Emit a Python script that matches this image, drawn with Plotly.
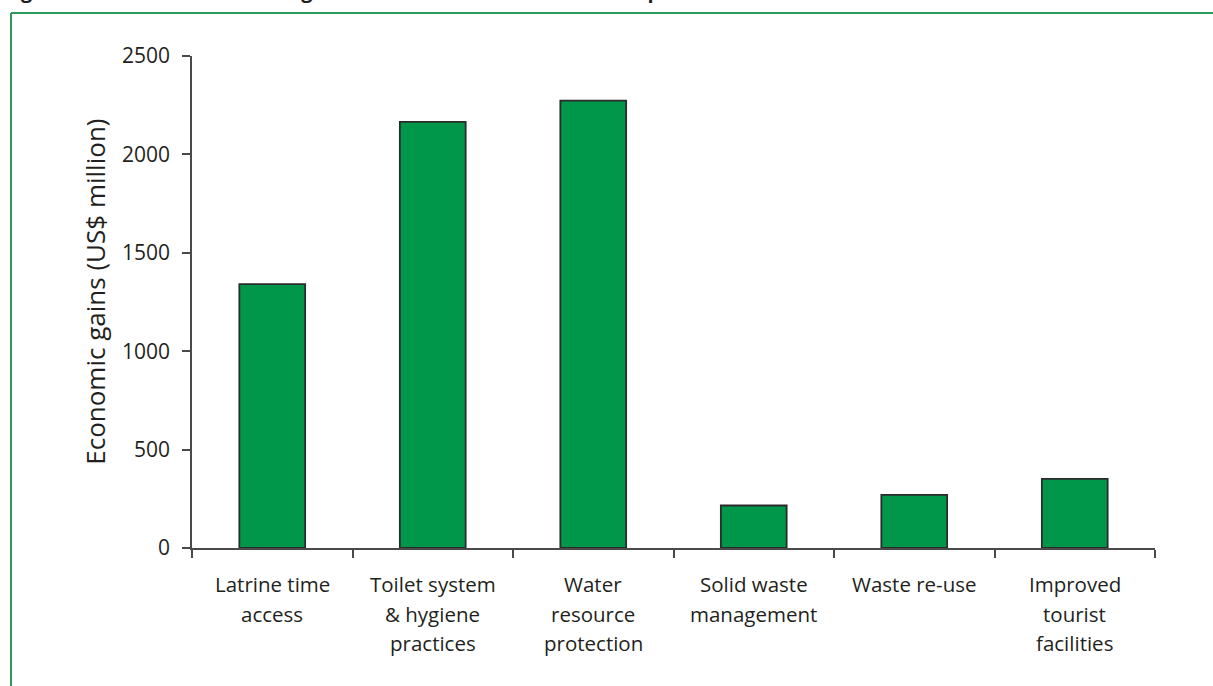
import plotly.graph_objects as go

categories = ["Latrine time access", "Toilet system & hygiene practices", "Water resource protection",
              "Solid waste management", "Waste re-use", "Improved tourist facilities"]
label_lines = [["Latrine time", "access"], ["Toilet system", "& hygiene", "practices"],
               ["Water", "resource", "protection"], ["Solid waste", "management"],
               ["Waste re-use"], ["Improved", "tourist", "facilities"]]
values = [1341, 2165, 2273, 216, 270, 351]
y_ticks = [0, 500, 1000, 1500, 2000, 2500]

W, H = 1213, 686
L, R, T, B = 192, 58, 56, 137.5
pw, ph = W - L - R, H - T - B

def px(xp):
    return (xp - L) / pw

def py(yp):
    return (H - B - yp) / ph

TXT = "#231f20"
AX = "#4a4a4a"
FONT = "Open Sans"

fig = go.Figure(go.Bar(
    x=categories, y=values,
    marker=dict(color="#00974a", line=dict(color="#2b2b2b", width=1.8)),
    width=0.41,
))

annotations = []
for cat, lines in zip(categories, label_lines):
    for i, ln in enumerate(lines):
        annotations.append(dict(x=cat, y=0, xref="x", yref="y", text=ln, showarrow=False,
                                xanchor="center", yanchor="middle", yshift=-(36 + 29.5 * i),
                                font=dict(family=FONT, size=20.5, color=TXT)))

annotations.append(dict(x=px(95), y=py(292), xref="paper", yref="paper",
                        text="Economic gains (US$ million)", textangle=-90, showarrow=False,
                        xanchor="center", yanchor="middle",
                        font=dict(family=FONT, size=26, color=TXT)))
annotations.append(dict(x=px(2), y=py(6), xref="paper", yref="paper",
                        text="<b>Figure 9: Estimated economic gains from different features of improved sanitation</b>",
                        showarrow=False, xanchor="left", yanchor="bottom",
                        font=dict(family=FONT, size=20, color=TXT)))

shapes = [
    dict(type="line", xref="paper", yref="paper", x0=px(11), x1=px(W + 5), y0=py(13), y1=py(13),
         line=dict(color="#2e9a5a", width=2)),
    dict(type="line", xref="paper", yref="paper", x0=px(11), x1=px(11), y0=py(13), y1=py(H + 5),
         line=dict(color="#2e9a5a", width=2)),
]

fig.update_layout(
    width=W, height=H,
    margin=dict(l=L, r=R, t=T, b=B, pad=0),
    paper_bgcolor="white", plot_bgcolor="white",
    showlegend=False,
    annotations=annotations,
    shapes=shapes,
    xaxis=dict(showline=True, linecolor=AX, linewidth=1.5, ticks="outside", ticklen=8,
               tickcolor=AX, tickwidth=1.5, tickson="boundaries", showticklabels=False,
               showgrid=False, zeroline=False),
    yaxis=dict(range=[0, 2500], tickvals=y_ticks, showline=True, linecolor=AX, linewidth=1.5,
               ticks="outside", ticklen=8, tickcolor=AX, tickwidth=1.5, showgrid=False,
               zeroline=False, ticklabelstandoff=8,
               tickfont=dict(family=FONT, size=21, color=TXT)),
)

fig.write_html("out.html")
